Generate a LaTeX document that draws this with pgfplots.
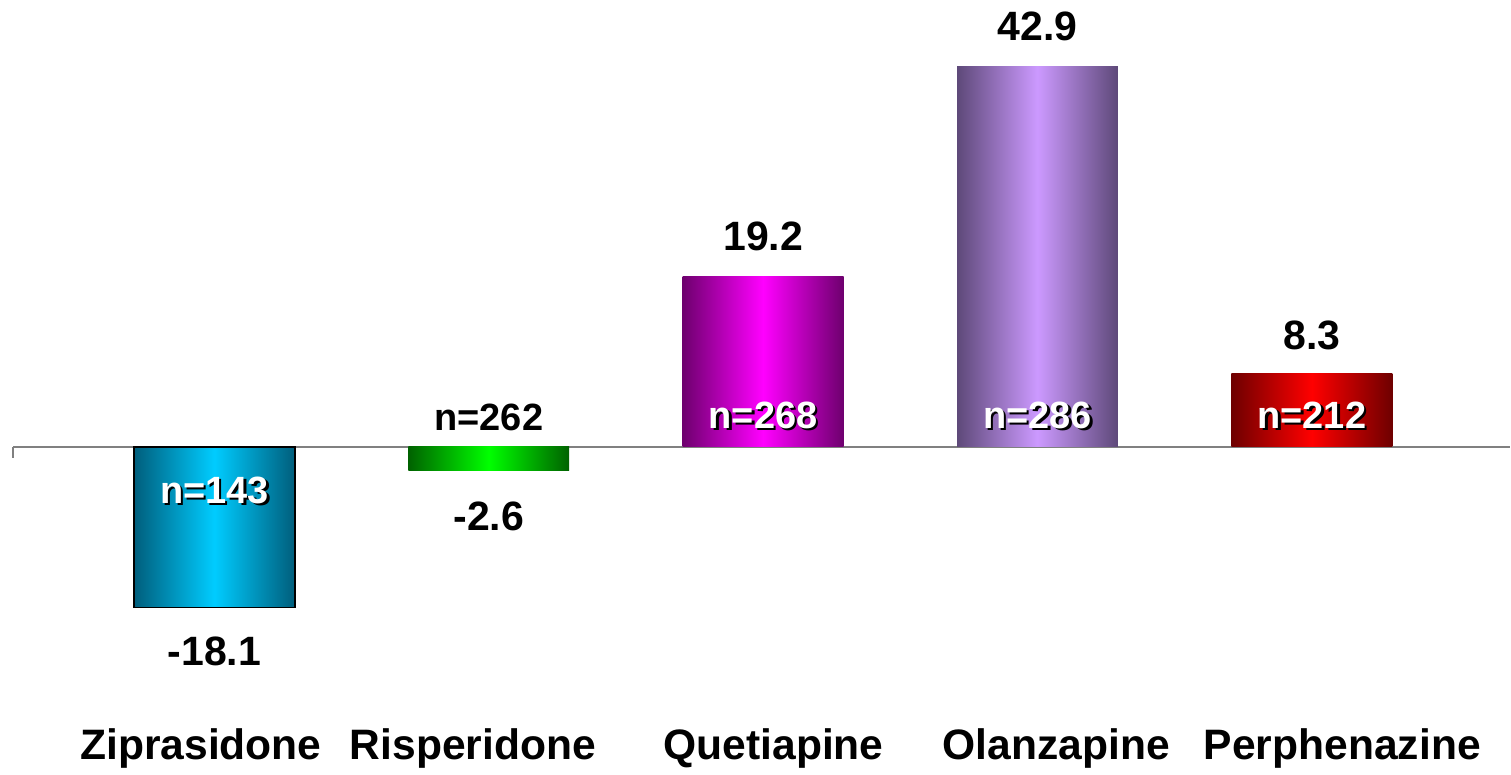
\documentclass[border=0pt]{standalone}
\usepackage{fontspec}
\setmainfont{Liberation Sans}
\usepackage{pgfplots}
\pgfplotsset{compat=1.18}

\definecolor{zipDark}{HTML}{005E7C}
\definecolor{zipLight}{HTML}{00CCFF}
\definecolor{risDark}{HTML}{006200}
\definecolor{risLight}{HTML}{00FF00}
\definecolor{queDark}{HTML}{6E006E}
\definecolor{queLight}{HTML}{FF00FF}
\definecolor{olzDark}{HTML}{5E4979}
\definecolor{olzLight}{HTML}{CC99FF}
\definecolor{perDark}{HTML}{6E0000}
\definecolor{perLight}{HTML}{FF0000}

% n= labels: white text with a black drop shadow
\newcommand{\nlab}[3]{%
  \node[font=\fontsize{19}{22}\selectfont\bfseries, text=black]
    at ([xshift=1.3pt, yshift=-1.3pt]axis cs:#1,#2) {#3};
  \node[font=\fontsize{19}{22}\selectfont\bfseries, text=white]
    at (axis cs:#1,#2) {#3};}

\begin{document}
\begin{tikzpicture}
\begin{axis}[
  scale only axis,
  width=755.5pt, height=385pt,
  xmin=-0.7814, xmax=4.723,
  ymin=-36.41, ymax=50.39,
  axis line style={draw=none},
  major tick length=0pt,
  ytick=\empty,
  % labels sit a little apart from the bar centres, as in the source
  xtick={-0.049,0.942,2.038,3.069,4.111},
  xticklabels={Ziprasidone, Risperidone, Quetiapine, Olanzapine, Perphenazine},
  xticklabel style={font=\fontsize{21.3}{24}\selectfont\bfseries, anchor=center, yshift=10.8pt},
  clip=false,
  ybar, bar width=80.5pt,
  every axis plot/.append style={bar shift=0pt},
  nodes near coords,
  point meta=explicit symbolic,
  every node near coord/.append style={font=\fontsize{20.5}{24}\selectfont\bfseries,
    anchor=center, text=black},
]
% zero line and the small tick at its left end
\draw[gray, line width=0.8pt] (axis cs:-0.734,0) -- (axis cs:4.723,0);
\draw[gray, line width=0.6pt] (axis cs:-0.734,0) -- ([yshift=-5.5pt]axis cs:-0.734,0);

\addplot[draw=black, line width=0.8pt,
  left color=zipDark, right color=zipDark, middle color=zipLight,
  every node near coord/.append style={yshift=-22pt}]
  coordinates {(0,-18.1) [-18.1]};
\addplot[draw=none,
  left color=risDark, right color=risDark, middle color=risLight,
  every node near coord/.append style={yshift=-23pt}]
  coordinates {(1,-2.6) [-2.6]};
\addplot[draw=none,
  left color=queDark, right color=queDark, middle color=queLight,
  every node near coord/.append style={yshift=20pt}]
  coordinates {(2,19.2) [19.2]};
\addplot[draw=none,
  left color=olzDark, right color=olzDark, middle color=olzLight,
  every node near coord/.append style={yshift=20pt}]
  coordinates {(3,42.9) [42.9]};
\addplot[draw=none,
  left color=perDark, right color=perDark, middle color=perLight,
  every node near coord/.append style={yshift=19pt}]
  coordinates {(4,8.3) [8.3]};

\nlab{0}{-4.85}{n=143}
\node[font=\fontsize{19}{22}\selectfont\bfseries, text=black] at (axis cs:1,3.3) {n=262};
\nlab{2}{3.6}{n=268}
\nlab{3}{3.6}{n=286}
\nlab{4}{3.6}{n=212}
\end{axis}
\end{tikzpicture}
\end{document}
